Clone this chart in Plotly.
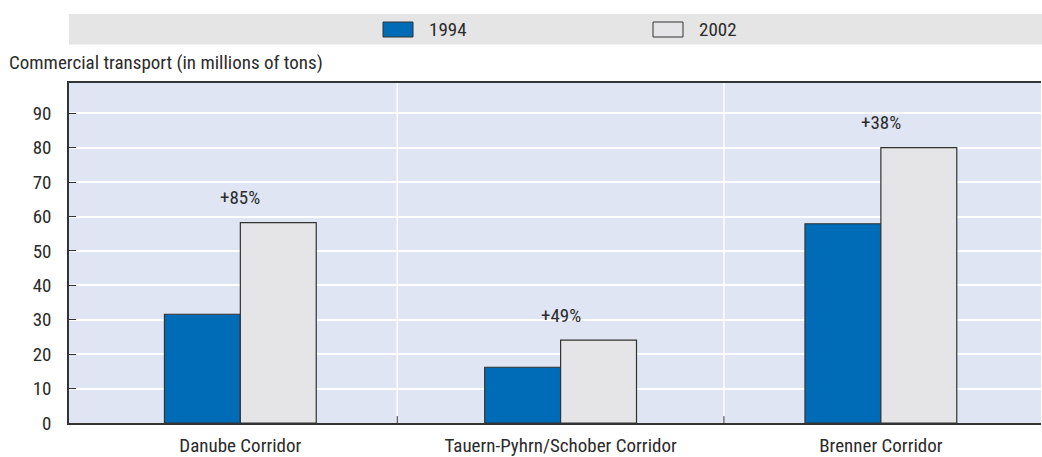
import plotly.graph_objects as go

categories = ["Danube Corridor", "Tauern-Pyhrn/Schober Corridor", "Brenner Corridor"]
values_1994 = [31.6, 16.2, 57.9]
values_2002 = [58.2, 24.1, 80.0]
growth_labels = ["+85%", "+49%", "+38%"]
y_ticks = [0, 10, 20, 30, 40, 50, 60, 70, 80, 90]
y_title = "Commercial transport (in millions of tons)"

FONT = "Liberation Sans Narrow, Roboto Condensed, Roboto, DejaVu Sans Condensed, sans-serif"
FS = 19
BLUE = "#006BB6"
GREY = "#E5E5E8"
EDGE = "#333333"
TXT = "#2b2b2b"

W, H = 1042, 457
ML, MR, MT, MB = 69, 1, 83, 34
PH = H - MT - MB
PW = W - ML - MR


def py(page_y):
    return (H - MB - page_y) / PH


def px(page_x):
    return (page_x - ML) / PW


fig = go.Figure()
fig.add_trace(go.Bar(name="1994", x=categories, y=values_1994,
                     marker=dict(color=BLUE, line=dict(color=EDGE, width=1.2)),
                     showlegend=False))
fig.add_trace(go.Bar(name="2002", x=categories, y=values_2002,
                     marker=dict(color=GREY, line=dict(color=EDGE, width=1.2)),
                     showlegend=False))

for c, v, t in zip(categories, values_2002, growth_labels):
    fig.add_annotation(x=c, y=v, text=t, showarrow=False, yanchor="middle",
                       yshift=25, font=dict(size=FS, color=TXT, family=FONT))

shapes = []
for b in [0.49, 1.51]:
    shapes.append(dict(type="line", xref="x", yref="paper", x0=b, x1=b, y0=0, y1=1,
                       line=dict(color="white", width=1.5), layer="below"))
    shapes.append(dict(type="line", xref="x", yref="y", x0=b, x1=b, y0=0, y1=2,
                       line=dict(color=EDGE, width=1), layer="above"))
shapes.append(dict(type="rect", xref="paper", yref="paper", x0=0, x1=1.01,
                   y0=py(44.5), y1=py(14), fillcolor="#E5E5E5", line=dict(width=0), layer="below"))
legend_items = [("1994", BLUE, 383, 430), ("2002", GREY, 653, 700)]
for name, col, sx, tx in legend_items:
    shapes.append(dict(type="rect", xref="paper", yref="paper", x0=px(sx), x1=px(sx + 30),
                       y0=py(37), y1=py(22), fillcolor=col, line=dict(color=EDGE, width=1)))
    fig.add_annotation(xref="paper", yref="paper", x=px(tx - 3), y=py(29.5), text=name,
                       showarrow=False, xanchor="left", yanchor="middle",
                       font=dict(size=FS, color=TXT, family=FONT))

fig.add_annotation(xref="paper", yref="paper", x=px(7), y=py(62), text=y_title,
                   showarrow=False, xanchor="left", yanchor="middle",
                   font=dict(size=FS, color=TXT, family=FONT))

fig.update_layout(
    width=W, height=H,
    margin=dict(l=ML, r=MR, t=MT, b=MB, pad=0),
    paper_bgcolor="white", plot_bgcolor="#DFE5F3",
    barmode="group", bargap=0.526, bargroupgap=0,
    font=dict(family=FONT, size=FS, color=TXT),
    shapes=shapes,
    showlegend=False,
)
fig.update_xaxes(range=[-0.535, 2.5], showgrid=False, showline=True, linecolor=EDGE,
                 linewidth=1.5, mirror=True, ticks="", ticklabelstandoff=4,
                 tickfont=dict(size=FS), automargin=False)
fig.update_yaxes(range=[0, 98.8], tickvals=y_ticks, showgrid=True, gridcolor="white",
                 gridwidth=1.5, showline=True, linecolor=EDGE, linewidth=1.5,
                 ticks="inside", ticklen=7, tickcolor=EDGE, ticklabelstandoff=12,
                 zeroline=False, tickfont=dict(size=FS), automargin=False)

fig.write_html(
    "out.html",
    config={"displayModeBar": False},
    post_script="document.body.style.margin='0';document.documentElement.style.overflow='hidden';",
)
